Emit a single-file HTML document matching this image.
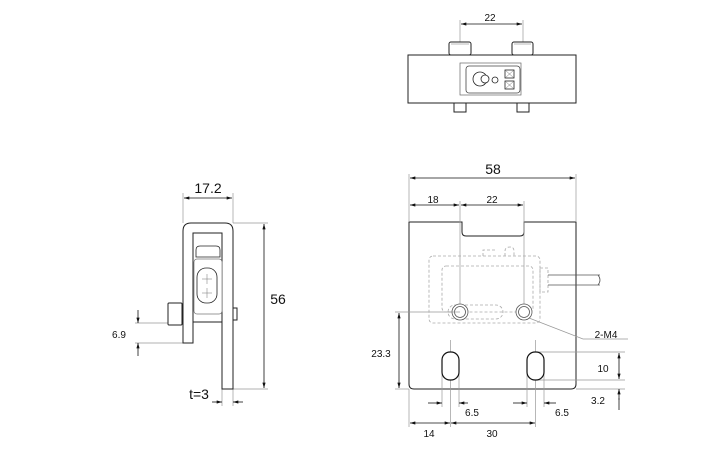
<!DOCTYPE html>
<html><head><meta charset="utf-8"><style>body{margin:0;background:#fff}svg{display:block}text{font-family:"Liberation Sans",sans-serif;fill:#111}</style></head><body>
<svg width="725" height="450" viewBox="0 0 725 450" xmlns="http://www.w3.org/2000/svg">
<defs><marker id="a" viewBox="0 0 10 6" refX="10" refY="3" markerWidth="8" markerHeight="4" orient="auto-start-reverse"><path d="M0,0L10,3L0,6z" fill="#111"/></marker></defs>
<!-- front plate first -->
<path d="M409,222 H462 V232 Q462,236 466,236 H520 Q524,236 524,232 V222 H576 V384 Q576,389 571,389 H414 Q409,389 409,384 Z" fill="#fff" stroke="#222" stroke-width="1"/>
<g fill="none" stroke="#999" stroke-width="0.7">
<line x1="460" y1="20" x2="460" y2="103"/><line x1="523" y1="20" x2="523" y2="103"/>
<line x1="183" y1="193" x2="183" y2="223"/><line x1="233" y1="193" x2="233" y2="223"/>
<line x1="233" y1="223" x2="268" y2="223"/><line x1="233" y1="389" x2="268" y2="389"/>
<line x1="135" y1="323" x2="183" y2="323"/><line x1="135" y1="343" x2="183" y2="343"/>
<line x1="222" y1="389" x2="222" y2="406"/><line x1="233" y1="389" x2="233" y2="406"/>
<line x1="409" y1="174" x2="409" y2="222"/><line x1="576" y1="174" x2="576" y2="222"/>
<line x1="409" y1="389" x2="409" y2="427"/>
<line x1="460" y1="201" x2="460" y2="312"/><line x1="524" y1="201" x2="524" y2="312"/>
<line x1="395" y1="312" x2="460" y2="312"/><line x1="395" y1="389" x2="409" y2="389"/>
<line x1="450.5" y1="340" x2="450.5" y2="427"/><line x1="535.5" y1="340" x2="535.5" y2="427"/>
<line x1="442" y1="366" x2="442" y2="407"/><line x1="459" y1="366" x2="459" y2="407"/>
<line x1="527" y1="366" x2="527" y2="407"/><line x1="544" y1="366" x2="544" y2="407"/>
<line x1="535" y1="352" x2="625" y2="352"/><line x1="535" y1="380" x2="625" y2="380"/>
<line x1="576" y1="389" x2="625" y2="389"/>
<polyline points="529,318 583,339 628,339"/>
</g>
<g stroke="#111" stroke-width="0.8" fill="none">
<line x1="461" y1="24" x2="522" y2="24" marker-start="url(#a)" marker-end="url(#a)"/>
<line x1="184" y1="198" x2="232" y2="198" marker-start="url(#a)" marker-end="url(#a)"/>
<line x1="264" y1="224" x2="264" y2="388" marker-start="url(#a)" marker-end="url(#a)"/>
<line x1="138" y1="310" x2="138" y2="323" marker-end="url(#a)"/><line x1="138" y1="356" x2="138" y2="343" marker-end="url(#a)"/>
<line x1="212" y1="402" x2="222" y2="402" marker-end="url(#a)"/><line x1="243" y1="402" x2="233" y2="402" marker-end="url(#a)"/>
<line x1="410" y1="178" x2="575" y2="178" marker-start="url(#a)" marker-end="url(#a)"/>
<line x1="410" y1="205" x2="459" y2="205" marker-start="url(#a)" marker-end="url(#a)"/>
<line x1="461" y1="205" x2="523" y2="205" marker-start="url(#a)" marker-end="url(#a)"/>
<line x1="399" y1="313" x2="399" y2="388" marker-start="url(#a)" marker-end="url(#a)"/>
<line x1="428" y1="403" x2="442" y2="403" marker-end="url(#a)"/><line x1="468" y1="403" x2="459" y2="403" marker-end="url(#a)"/>
<line x1="513" y1="403" x2="527" y2="403" marker-end="url(#a)"/><line x1="556" y1="403" x2="544" y2="403" marker-end="url(#a)"/>
<line x1="410" y1="423" x2="450" y2="423" marker-start="url(#a)" marker-end="url(#a)"/>
<line x1="451" y1="423" x2="535" y2="423" marker-start="url(#a)" marker-end="url(#a)"/>
<line x1="619" y1="353" x2="619" y2="379" marker-start="url(#a)" marker-end="url(#a)"/>
<line x1="619" y1="400" x2="619" y2="389" marker-end="url(#a)"/><line x1="619" y1="410" x2="619" y2="398"/>
</g>
<g stroke="#222" stroke-width="1" fill="#fff">
<rect x="449" y="42" width="22" height="13" rx="2"/><rect x="512" y="42" width="21" height="13" rx="2"/>
<rect x="454" y="103" width="12" height="9"/><rect x="517" y="103" width="12" height="9"/>
<rect x="408" y="55" width="168" height="48"/>
<rect x="460" y="63" width="61" height="32" stroke="#666" stroke-width="0.7"/>
<rect x="466" y="66" width="54" height="27" rx="3" stroke="#444" stroke-width="0.8"/>
<circle cx="480" cy="79" r="7" stroke-width="0.8"/><circle cx="485" cy="79" r="4" stroke-width="0.8"/><circle cx="495" cy="80" r="3" stroke-width="0.8"/>
<rect x="505" y="70" width="9" height="8" stroke-width="0.8"/><rect x="505" y="81" width="9" height="8" stroke-width="0.8"/>
</g>
<g stroke="#777" stroke-width="0.5"><line x1="451" y1="44" x2="469" y2="44"/><line x1="514" y1="44" x2="531" y2="44"/><line x1="505" y1="70" x2="514" y2="78"/><line x1="514" y1="70" x2="505" y2="78"/><line x1="505" y1="81" x2="514" y2="89"/><line x1="514" y1="81" x2="505" y2="89"/></g>
<g stroke="#222" stroke-width="1" fill="#fff">
<rect x="168" y="303" width="14" height="22" rx="1"/>
<rect x="233" y="308" width="4" height="12"/>
<path d="M183,343 V231 Q183,223 191,223 H225 Q233,223 233,231 V389 H222 V322 H193 V343 Z"/>
<rect x="193" y="233" width="29" height="89" fill="none"/>
<rect x="194" y="259" width="28" height="55" rx="3" stroke="#777" stroke-width="0.7"/>
<rect x="197" y="268" width="20" height="35" rx="9" stroke-width="0.8"/>
<path d="M196,257 V250 Q196,246 200,246 H216 Q220,246 220,250 V257 Z" stroke-width="0.8"/>
</g>
<g stroke="#888" stroke-width="0.6"><line x1="207" y1="274" x2="207" y2="284"/><line x1="202" y1="279" x2="212" y2="279"/><line x1="207" y1="288" x2="207" y2="298"/><line x1="202" y1="293" x2="212" y2="293"/></g>
<g fill="none" stroke="#aaa" stroke-width="0.8" stroke-dasharray="3,2">
<rect x="429" y="256" width="111" height="67" rx="4"/>
<rect x="442" y="266" width="91" height="46" rx="4"/>
<path d="M483,256 V250 H496 M505,256 V251 Q505,247 510,247 Q514,247 514,251 V256"/>
<rect x="540" y="268" width="8" height="24"/>
<rect x="448" y="305" width="55" height="14" rx="7"/>
</g>
<line x1="548" y1="275" x2="600" y2="275" stroke="#555" stroke-width="0.8"/><line x1="548" y1="285" x2="600" y2="285" stroke="#555" stroke-width="0.8"/>
<path d="M598,275 Q602,280 598,285" fill="none" stroke="#555" stroke-width="0.8"/>
<g fill="#fff" stroke="#555" stroke-width="0.8"><circle cx="460" cy="312" r="8"/><circle cx="460" cy="312" r="5.5"/><circle cx="524" cy="312" r="8"/><circle cx="524" cy="312" r="5.5"/></g>
<line x1="448" y1="312" x2="460" y2="312" stroke="#999" stroke-width="0.7"/>
<g fill="#fff" stroke="#111" stroke-width="1.2"><rect x="442" y="352" width="17" height="28" rx="8"/><rect x="527" y="352" width="17" height="28" rx="8"/></g>
<g font-size="10" text-anchor="middle">
<text x="490" y="21">22</text>
<text x="119" y="338">6.9</text>
<text x="433" y="203">18</text><text x="492" y="203">22</text>
<text x="381" y="357">23.3</text>
<text x="606" y="338">2-M4</text>
<text x="603" y="372">10</text><text x="598" y="404">3.2</text>
<text x="472" y="416">6.5</text><text x="562" y="416">6.5</text>
<text x="429" y="437">14</text><text x="492" y="437">30</text>
</g>
<g font-size="14" text-anchor="middle"><text x="208" y="193">17.2</text><text x="278" y="304">56</text><text x="199" y="399">t=3</text><text x="493" y="174">58</text></g>
</svg>
</body></html>
